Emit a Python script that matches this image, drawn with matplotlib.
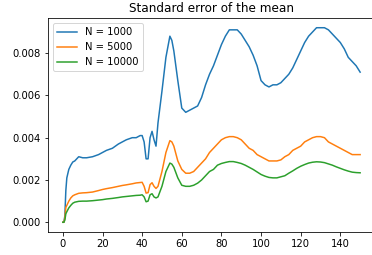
import matplotlib
matplotlib.use("Agg")
import matplotlib.pyplot as plt

t = [0, 0.5, 1, 1.5, 2, 3, 4, 5, 6, 8, 10, 12, 15, 18, 20, 22, 25, 28, 30, 32, 35, 37, 39, 40,
     41, 42, 43, 44, 45, 46, 47, 48, 50, 52, 54, 55, 56, 58, 60, 62, 64, 66, 68, 70, 72, 74, 76,
     78, 80, 82, 84, 86, 88, 90, 92, 94, 96, 98, 100, 102, 104, 106, 108, 110, 112, 114, 116, 118,
     120, 122, 124, 126, 128, 130, 132, 134, 136, 138, 140, 142, 144, 146, 148, 150]

se_1000 = [0, 0, 0.0003, 0.0015, 0.0021, 0.0025, 0.0027, 0.00285, 0.0029, 0.0031, 0.00305, 0.00305,
           0.0031, 0.0032, 0.0033, 0.0034, 0.0035, 0.0037, 0.0038, 0.0039, 0.0040, 0.0040, 0.0041,
           0.0041, 0.0038, 0.0030, 0.0030, 0.0040, 0.0043, 0.0039, 0.0036, 0.0047, 0.0062, 0.0078,
           0.0088, 0.0086, 0.0081, 0.0067, 0.0054, 0.0052, 0.0053, 0.0054, 0.0055, 0.0059, 0.0065,
           0.0070, 0.0074, 0.0079, 0.0084, 0.0088, 0.0091, 0.0091, 0.0091, 0.0089, 0.0086, 0.0083,
           0.0079, 0.0074, 0.0067, 0.0065, 0.0064, 0.0065, 0.0065, 0.0066, 0.0068, 0.0070, 0.0073,
           0.0077, 0.0081, 0.0085, 0.0088, 0.0090, 0.0092, 0.0092, 0.0092, 0.0091, 0.0089, 0.0087,
           0.0085, 0.0082, 0.0078, 0.0076, 0.0074, 0.0071]

se_5000 = [0, 0, 0.0002, 0.0007, 0.0008, 0.0010, 0.00115, 0.00125, 0.0013, 0.00137, 0.00139,
           0.0014, 0.00143, 0.0015, 0.00155, 0.00159, 0.00164, 0.0017, 0.00174, 0.00177, 0.00182,
           0.00186, 0.00188, 0.00189, 0.0017, 0.00138, 0.0014, 0.00178, 0.00187, 0.0017, 0.0016,
           0.0017, 0.0024, 0.0033, 0.00386, 0.0038, 0.0036, 0.0029, 0.0025, 0.00232, 0.00232,
           0.0024, 0.0026, 0.0028, 0.0030, 0.0033, 0.0035, 0.0037, 0.0039, 0.0040, 0.00405,
           0.00405, 0.0040, 0.0039, 0.0037, 0.0035, 0.0034, 0.0032, 0.0031, 0.0030, 0.0029,
           0.0029, 0.0029, 0.00295, 0.0031, 0.0032, 0.0034, 0.0035, 0.0036, 0.0038, 0.0039,
           0.0040, 0.00405, 0.00405, 0.0040, 0.0038, 0.0037, 0.0036, 0.0035, 0.0034, 0.0033,
           0.0032, 0.0032, 0.0032]

se_10000 = [0, 0, 0.0001, 0.0004, 0.0005, 0.00068, 0.0008, 0.0009, 0.00095, 0.00099, 0.0010,
            0.0010, 0.00102, 0.00105, 0.00107, 0.0011, 0.00113, 0.00117, 0.0012, 0.00122, 0.00125,
            0.00127, 0.00128, 0.0013, 0.0012, 0.00097, 0.0010, 0.0013, 0.00135, 0.0012, 0.00115,
            0.0012, 0.0017, 0.0024, 0.0028, 0.00275, 0.0026, 0.0021, 0.00175, 0.0017, 0.0017,
            0.00175, 0.00185, 0.0020, 0.0022, 0.0024, 0.0025, 0.0027, 0.00278, 0.00283, 0.00287,
            0.00287, 0.00283, 0.00278, 0.0027, 0.0026, 0.0025, 0.00238, 0.00226, 0.00218, 0.00212,
            0.0021, 0.0021, 0.00215, 0.0022, 0.00232, 0.00243, 0.00255, 0.00265, 0.00273, 0.0028,
            0.00284, 0.00286, 0.00285, 0.00282, 0.00276, 0.0027, 0.00262, 0.00255, 0.00248,
            0.00242, 0.00237, 0.00235, 0.00234]

series = [("N = 1000", se_1000), ("N = 5000", se_5000), ("N = 10000", se_10000)]

fig = plt.figure(figsize=(372 / 72, 255 / 72), dpi=72)
ax = fig.add_axes([48 / 372, 1 - 232 / 255, 327 / 372, 214 / 255])
for label, vals in series:
    ax.plot(t, vals, label=label, linewidth=1.5)
ax.set_title("Standard error of the mean")
ax.legend(loc="upper left")
fig.savefig("out.png", dpi=72)
